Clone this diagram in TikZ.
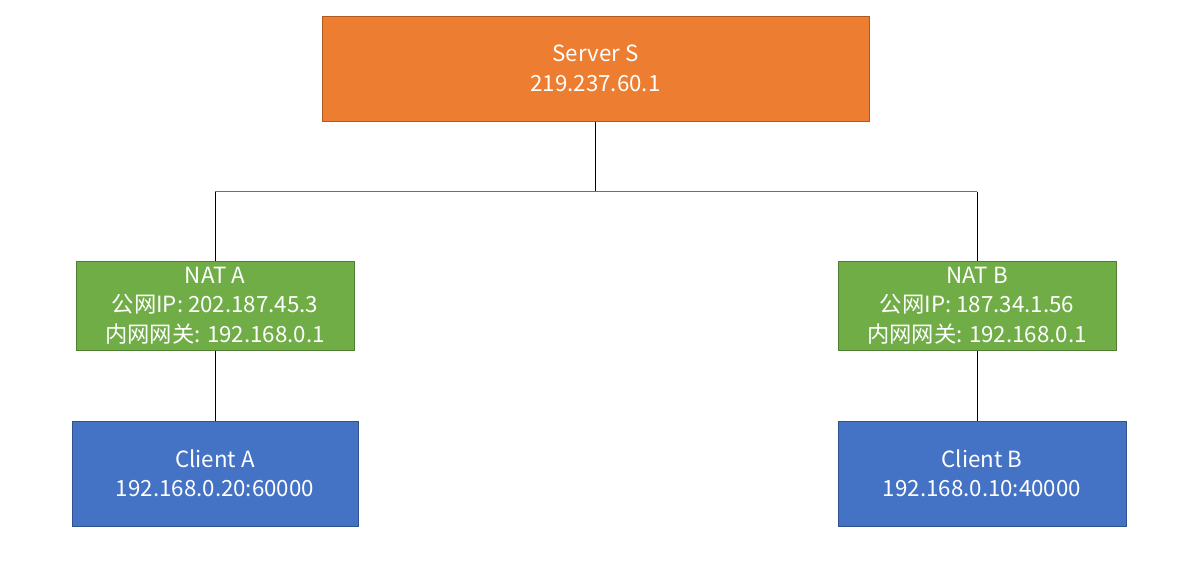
\documentclass[tikz,border=0pt]{standalone}
\usepackage{fontspec}
\setmainfont{Noto Sans CJK SC}
\definecolor{orangefill}{HTML}{ED7D31}
\definecolor{orangeline}{HTML}{AE5A21}
\definecolor{greenfill}{HTML}{70AD47}
\definecolor{greenline}{HTML}{507E32}
\definecolor{bluefill}{HTML}{4472C4}
\definecolor{blueline}{HTML}{2F528F}
\begin{document}
\begin{tikzpicture}[x=1pt,y=-1pt,
  box/.style={draw, line width=1pt, inner sep=0pt, align=center, text=white,
    font=\fontsize{22.3}{29.5}\selectfont},
  serverbox/.style={box, fill=orangefill, draw=orangeline, minimum width=547pt, minimum height=105pt},
  natbox/.style={box, fill=greenfill, draw=greenline, minimum width=278pt, minimum height=89pt},
  clientbox/.style={box, fill=bluefill, draw=blueline, minimum height=105pt},
  link/.style={draw=black, line width=1pt},
  bus/.style={draw=bluefill, line width=1.3pt}]
\useasboundingbox (0,0) rectangle (1201,562);
\fill[white] (0,0) rectangle (1201,562);
\node[serverbox] (S) at (595.5,68.5) {Server S\\219.237.60.1};
\node[natbox] (NA) at (215,305.5) {NAT A\\公网IP: 202.187.45.3\\内网网关: 192.168.0.1};
\node[natbox] (NB) at (977,305.5) {NAT B\\公网IP: 187.34.1.56\\内网网关: 192.168.0.1};
\node[clientbox, minimum width=286pt] (CA) at (215,473.5) {Client A\\192.168.0.20:60000};
\node[clientbox, minimum width=288pt] (CB) at (982,473.5) {Client B\\192.168.0.10:40000};
\coordinate (J) at (595.5,191.5);
\coordinate (JA) at (215,191.5);
\coordinate (JB) at (977,191.5);
\draw[link] (S.south) -- (J);
\draw[link] (JA) -- (NA.north);
\draw[link] (JB) -- (NB.north);
\draw[bus] (JA) -- (JB);
\draw[link] (NA.south) -- (CA.north);
\draw[link] (NB.south) -- (NB.south |- CB.north);
\end{tikzpicture}
\end{document}
